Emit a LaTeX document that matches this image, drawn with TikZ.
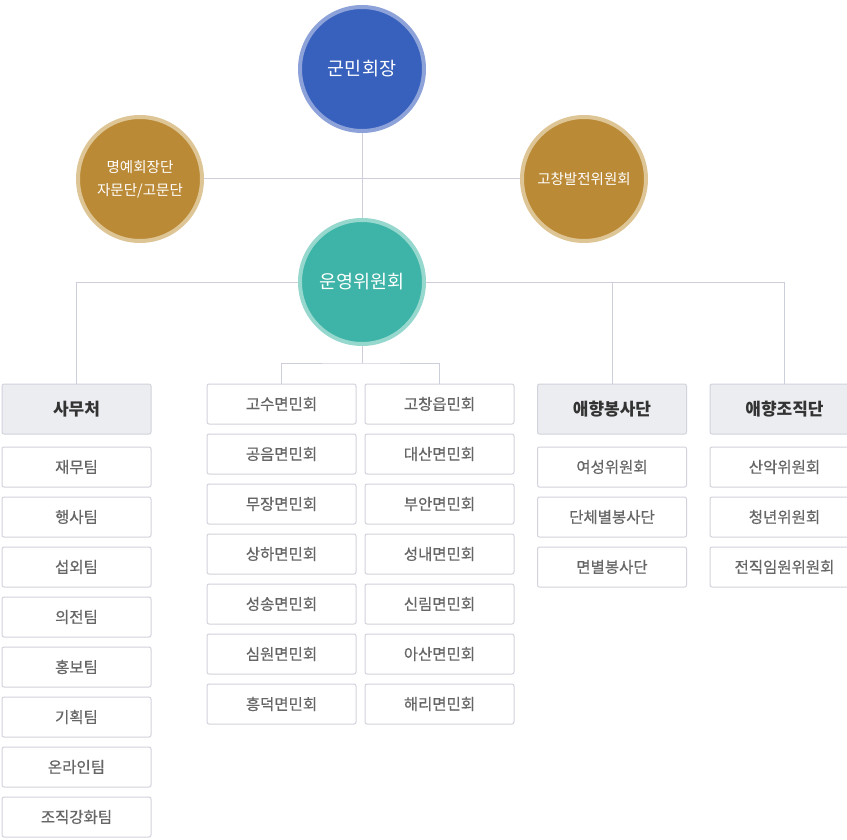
\documentclass[tikz,border=0pt]{standalone}
\usepackage{fontspec}
\setmainfont{Noto Sans CJK KR}
\usepackage{tikz}
\definecolor{headblue}{HTML}{3761BD}
\definecolor{ringblue}{HTML}{8DA2D9}
\definecolor{headgold}{HTML}{BB8A37}
\definecolor{ringgold}{HTML}{DEC596}
\definecolor{headteal}{HTML}{3DB4A7}
\definecolor{ringteal}{HTML}{96D7CE}
\definecolor{linkgray}{HTML}{CDCEDC}
\definecolor{boxgray}{HTML}{D2D3DC}
\definecolor{headfill}{HTML}{ECEDF1}
\definecolor{headtext}{HTML}{333333}
\definecolor{subtext}{HTML}{666666}
\tikzstyle{chair} = [circle, minimum size=124pt, inner sep=0pt, line width=4pt, text=white, align=center]
\tikzstyle{bluecircle} = [chair, fill=headblue, draw=ringblue, font=\fontsize{18.5}{22}\selectfont]
\tikzstyle{tealcircle} = [chair, fill=headteal, draw=ringteal, font=\fontsize{18.5}{22}\selectfont]
\tikzstyle{goldcircle} = [chair, fill=headgold, draw=ringgold, font=\fontsize{14.5}{23}\selectfont]
\tikzstyle{headbox} = [rectangle, rounded corners=2pt, minimum width=149pt, minimum height=50pt, inner sep=0pt, draw=boxgray, line width=1pt, fill=headfill, text=headtext, font=\fontsize{17}{19}\selectfont\bfseries]
\tikzstyle{subbox} = [rectangle, rounded corners=2pt, minimum width=149pt, minimum height=40pt, inner sep=0pt, draw=boxgray, line width=1pt, fill=white, text=subtext, font=\fontsize{15.5}{18}\selectfont\addfontfeature{FakeBold=0.6}]
\tikzstyle{link} = [draw=linkgray, line width=1pt]

\begin{document}
\begin{tikzpicture}[x=1pt, y=-1pt]
            \clip (0,0) rectangle (847,840);
            % circles
            \node [bluecircle] at (362,69) (gm) {군민회장};
            \node [goldcircle] at (140,179) (my) {명예회장단\\자문단/고문단};
            \node [goldcircle] at (584,179) (gc) {고창발전위원회};
            \node [tealcircle] at (362,282) (oy) {운영위원회};
            % 사무처
            \node [headbox] at (76.5,409) (sa) {사무처};
            \node [subbox] at (76.5,467) (sa1) {재무팀};
            \node [subbox] at (76.5,517) (sa2) {행사팀};
            \node [subbox] at (76.5,567) (sa3) {섭외팀};
            \node [subbox] at (76.5,617) (sa4) {의전팀};
            \node [subbox] at (76.5,667) (sa5) {홍보팀};
            \node [subbox] at (76.5,717) (sa6) {기획팀};
            \node [subbox] at (76.5,767) (sa7) {온라인팀};
            \node [subbox] at (76.5,817) (sa8) {조직강화팀};
            % 면민회
            \node [subbox] at (281.5,404) (m1) {고수면민회};
            \node [subbox] at (281.5,454) (m2) {공음면민회};
            \node [subbox] at (281.5,504) (m3) {무장면민회};
            \node [subbox] at (281.5,554) (m4) {상하면민회};
            \node [subbox] at (281.5,604) (m5) {성송면민회};
            \node [subbox] at (281.5,654) (m6) {심원면민회};
            \node [subbox] at (281.5,704) (m7) {흥덕면민회};
            \node [subbox] at (439.5,404) (e1) {고창읍민회};
            \node [subbox] at (439.5,454) (e2) {대산면민회};
            \node [subbox] at (439.5,504) (e3) {부안면민회};
            \node [subbox] at (439.5,554) (e4) {성내면민회};
            \node [subbox] at (439.5,604) (e5) {신림면민회};
            \node [subbox] at (439.5,654) (e6) {아산면민회};
            \node [subbox] at (439.5,704) (e7) {해리면민회};
            % 애향봉사단
            \node [headbox] at (612,409) (ah) {애향봉사단};
            \node [subbox] at (612,467) (ah1) {여성위원회};
            \node [subbox] at (612,517) (ah2) {단체별봉사단};
            \node [subbox] at (612,567) (ah3) {면별봉사단};
            % 애향조직단
            \node [headbox] at (784.5,409) (aj) {애향조직단};
            \node [subbox] at (784.5,467) (aj1) {산악위원회};
            \node [subbox] at (784.5,517) (aj2) {청년위원회};
            \node [subbox] at (784.5,567) (aj3) {전직임원위원회};
            % links
            \coordinate (br) at (362,363);
            \draw [link] (gm) -- (oy);
            \draw [link] (my) -- (gc);
            \draw [link] (sa.north) |- (oy.west);
            \draw [link] (oy.east) -| (ah.north);
            \draw [link] (oy.east) -| (aj.north);
            \draw [link] (oy.south) -- (br);
            \draw [link] (m1.north) |- (br) -| (e1.north);
            \end{tikzpicture}
\end{document}
